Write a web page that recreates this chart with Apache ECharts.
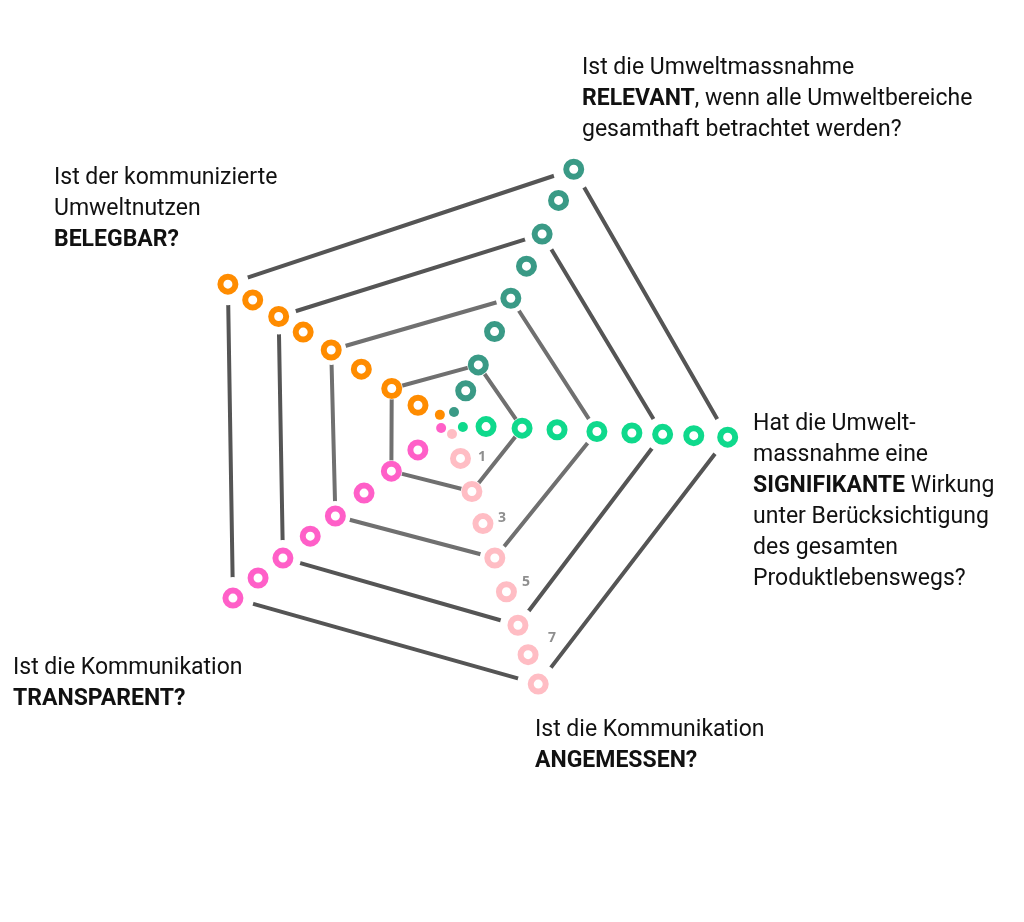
<!DOCTYPE html>
<html>
<head>
<meta charset="utf-8">
<script src="https://cdn.jsdelivr.net/npm/echarts@6/dist/echarts.min.js"></script>
<style>
html,body{margin:0;padding:0;background:#fff;}
#chart{width:1024px;height:922px;}
</style>
</head>
<body>
<div id="chart"></div>
<script>
// ---- data ----
// axis order: SIGNIFIKANTE (green), RELEVANT (teal), BELEGBAR (orange), TRANSPARENT (pink), ANGEMESSEN (light pink)
const axisNames = ['SIGNIFIKANTE', 'RELEVANT', 'BELEGBAR', 'TRANSPARENT', 'ANGEMESSEN'];
const axisAngles = [357.5, 64, 147.5, 218.7, 289];           // degrees, counter-clockwise from east
const greenRadii = [1.06, 2.09, 3.09, 4.23, 5.23, 6.11, 7.0, 7.97];
const tealRadii = [1.09, 1.91, 2.97, 4.03, 5.05, 6.07, 7.14, 8.13];
const orangeRadii = [1.05, 1.94, 2.97, 3.99, 4.94, 5.77, 6.65, 7.49];
const pinkRadii = [1.14, 2.11, 3.11, 4.16, 5.08, 6.08, 6.99, 7.91];
const lightPinkRadii = [1.01, 2.01, 2.98, 4.02, 5.04, 6.05, 6.94, 7.83];
const centerDotRadii = [0.40, 0.40, 0.39, 0.24, 0.27];
const centerDotAngles = [352, 69, 132, 200.6, 288.4];
const polygonLevels = [2, 4, 6, 8];                          // rings joined into pentagons
const tickLabels = ['1', '3', '5', '7'];
const tickRadii = [1.31, 3.06, 5.0, 6.76];
const tickAngles = [316, 299.7, 296.1, 295.8];

// ---- styles ----
const axisColors = ['#0fd98c', '#3a9a86', '#ff8c00', '#ff5fc8', '#ffbdc4'];
const polygonColors = ['#707070', '#707070', '#555555', '#555555'];
const gapSizes = [22, 30, 36, 42];
const FONT = 'Roboto, "Noto Sans", sans-serif';
const FS = 23;

const allRadii = [greenRadii, tealRadii, orangeRadii, pinkRadii, lightPinkRadii];

const series = [];

// pentagons
polygonLevels.forEach((lvl, i) => {
  const pts = allRadii.map((radii, a) => [radii[lvl - 1], axisAngles[a]]);
  pts.push(pts[0]);
  series.push({
    type: 'line', coordinateSystem: 'polar', data: pts, symbol: 'none', silent: true,
    lineStyle: { color: polygonColors[i], width: 4, cap: 'butt', opacity: 1 }, z: 2
  });
});

// white gaps around pentagon corners
polygonLevels.forEach((lvl, i) => {
  series.push({
    type: 'scatter', coordinateSystem: 'polar', silent: true, z: 3,
    data: allRadii.map((radii, a) => [radii[lvl - 1], axisAngles[a]]),
    symbol: 'circle', symbolSize: gapSizes[i],
    itemStyle: { color: '#ffffff', opacity: 1 }
  });
});

// ring markers along each axis
allRadii.forEach((radii, a) => {
  series.push({
    name: axisNames[a],
    type: 'scatter', coordinateSystem: 'polar', silent: true, z: 4,
    data: radii.map(r => [r, axisAngles[a]]),
    symbol: 'circle', symbolSize: 15,
    itemStyle: { color: '#ffffff', borderColor: axisColors[a], borderWidth: 6, opacity: 1 }
  });
});

// small centre dots
series.push({
  type: 'scatter', coordinateSystem: 'polar', silent: true, z: 4,
  data: centerDotRadii.map((r, a) => ({ value: [r, centerDotAngles[a]], itemStyle: { color: axisColors[a], opacity: 1 } })),
  symbol: 'circle', symbolSize: 10
});

// scale labels
series.push({
  type: 'scatter', coordinateSystem: 'polar', silent: true, z: 5,
  data: tickLabels.map((t, i) => ({ value: [tickRadii[i], tickAngles[i]], name: t })),
  symbol: 'circle', symbolSize: 1, itemStyle: { color: 'rgba(0,0,0,0)' },
  label: {
    show: true, position: 'inside', formatter: p => p.name,
    color: '#727272', fontWeight: 'bold', fontSize: 14, fontFamily: '"Open Sans", sans-serif'
  }
});

function block(left, top, text) {
  return {
    type: 'text', left: left, top: top, silent: true,
    style: {
      text: text, fill: '#111111', fontSize: FS, fontFamily: FONT, lineHeight: 31,
      rich: {
        b: { fontWeight: 'bold', fontSize: FS, fontFamily: FONT, lineHeight: 31, fill: '#111111' }
      }
    }
  };
}

const option = {
  animation: false,
  backgroundColor: '#ffffff',
  polar: { center: [449, 425], radius: 315 },
  radiusAxis: { type: 'value', min: 0, max: 9, show: false },
  angleAxis: { type: 'value', min: 0, max: 360, startAngle: 0, clockwise: false, show: false },
  series: series,
  graphic: [
    block(582, 53, 'Ist die Umweltmassnahme\n{b|RELEVANT}, wenn alle Umweltbereiche\ngesamthaft betrachtet werden?'),
    block(54, 163, 'Ist der kommunizierte\nUmweltnutzen\n{b|BELEGBAR?}'),
    block(753, 409, 'Hat die Umwelt-\nmassnahme eine\n{b|SIGNIFIKANTE} Wirkung\nunter Berücksichtigung\ndes gesamten\nProduktlebenswegs?'),
    block(13, 653, 'Ist die Kommunikation\n{b|TRANSPARENT?}'),
    block(535, 715, 'Ist die Kommunikation\n{b|ANGEMESSEN?}')
  ]
};

const chart = echarts.init(document.getElementById('chart'), null, { renderer: 'canvas' });
chart.setOption(option);
</script>
</body>
</html>
